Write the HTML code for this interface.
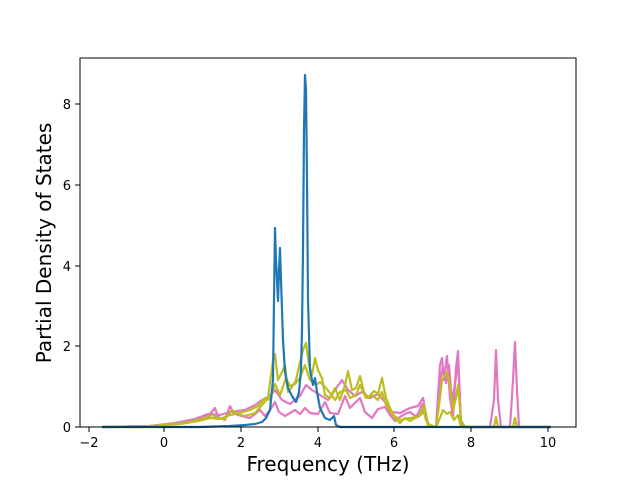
<!DOCTYPE html>
<html><head><style>body{margin:0;background:#fff}svg{display:block}</style></head><body>
<svg width="640" height="480" xmlns="http://www.w3.org/2000/svg" font-family="DejaVu Sans, sans-serif">
<rect width="640" height="480" fill="#fff"/>
<g fill="none" stroke-width="2.2" stroke-linejoin="round">
<polyline stroke="#e377c2" points="102,427 140,427 160,425 180,423 195,420 205,416 210,414 215,408 218,417 225,420 230,406 233,412 238,415 245,417 250,418 255,414 260,410 265,416 270,410 275,402 279,412 285,416 290,413 295,410 300,414 305,408 310,413 318,414 325,402 330,413 338,414 345,396 350,408 355,403 360,398 365,412 372,418 378,409 385,407 390,415 395,421 400,417 405,414 410,412 415,416 418,414 422,404 426,420 430,426 436,427 440,365 442,358 444,380 447,356 450,398 453,417 456,368 458,351 461,425 465,427 490,427 494,400 496,350 498,400 501,427 510,427 513,380 515,342 517,390 519,427 551,427"/>
<polyline stroke="#e377c2" points="102,427 150,426 175,423 195,419 208,414 220,415 230,412 245,410 255,405 262,400 270,396 275,390 282,400 290,404 300,396 306,385 312,390 320,395 328,400 335,390 342,380 348,390 355,396 362,392 370,398 378,394 385,402 392,412 400,413 410,408 418,406 423,398 428,425 436,427 440,380 443,367 446,383 449,365 452,402 456,378 458,356 461,426 470,427 551,427"/>
<polyline stroke="#bcbd22" points="102,427 150,426 175,424 190,422 205,418 212,415 218,418 225,419 232,410 238,414 245,416 255,413 262,405 268,398 273,360 275,354 278,380 282,372 285,365 288,392 292,387 296,380 300,362 303,350 306,343 309,365 312,375 315,358 318,370 322,378 325,395 330,398 335,388 340,400 345,385 348,371 352,390 356,388 360,376 364,392 368,398 374,391 378,394 382,378 386,398 390,408 395,419 400,423 405,418 410,421 415,418 420,415 424,405 428,424 436,427 440,398 442,380 445,375 447,372 450,385 453,410 456,398 458,385 461,420 465,427 494,427 496,417 498,427 513,427 515,418 517,427 551,427"/>
<polyline stroke="#bcbd22" points="102,427 150,426 180,424 198,421 210,418 220,419 230,415 240,413 250,410 258,406 265,398 270,400 275,384 280,395 286,378 290,386 295,384 300,378 305,365 310,380 316,385 320,382 326,388 330,393 335,400 340,392 346,390 350,398 356,395 360,385 366,398 372,395 378,400 382,392 386,405 392,414 400,420 410,418 418,417 424,412 428,425 436,427 440,418 443,410 447,414 450,412 454,420 458,415 461,427 551,427"/>
<polyline stroke="#1f77b4" points="102,427 200,427 230,426 245,425 255,424 262,422 266,418 270,410 273,380 274,300 275,228 276,260 277,280 278,301 279,270 280,248 281,280 283,340 285,372 288,388 292,396 296,402 299,392 301,370 302,330 303,250 304,130 305,75 306,90 307,180 308,300 310,370 313,385 315,378 317,392 320,408 325,418 330,420 334,416 336,425 340,427 551,427"/>
</g>
<rect x="80" y="58" width="496" height="369" fill="none" stroke="#000" stroke-width="1"/>
<g stroke="#000" stroke-width="1">
<line x1="89" y1="427" x2="89" y2="432"/><line x1="164" y1="427" x2="164" y2="432"/><line x1="241" y1="427" x2="241" y2="432"/><line x1="318" y1="427" x2="318" y2="432"/><line x1="394" y1="427" x2="394" y2="432"/><line x1="471" y1="427" x2="471" y2="432"/><line x1="548" y1="427" x2="548" y2="432"/>
<line x1="75" y1="427" x2="80" y2="427"/><line x1="75" y1="346" x2="80" y2="346"/><line x1="75" y1="266" x2="80" y2="266"/><line x1="75" y1="185" x2="80" y2="185"/><line x1="75" y1="104" x2="80" y2="104"/>
</g>
<g font-size="13" fill="#000" text-anchor="middle">
<text x="89" y="447">−2</text><text x="164" y="447">0</text><text x="241" y="447">2</text><text x="318" y="447">4</text><text x="394" y="447">6</text><text x="471" y="447">8</text><text x="548" y="447">10</text>
</g>
<g font-size="13" fill="#000" text-anchor="end">
<text x="71" y="432">0</text><text x="71" y="351">2</text><text x="71" y="271">4</text><text x="71" y="190">6</text><text x="71" y="109">8</text>
</g>
<text x="328" y="471" font-size="20" text-anchor="middle">Frequency (THz)</text>
<text transform="translate(51,243) rotate(-90)" font-size="20" text-anchor="middle">Partial Density of States</text>
</svg>
</body></html>
